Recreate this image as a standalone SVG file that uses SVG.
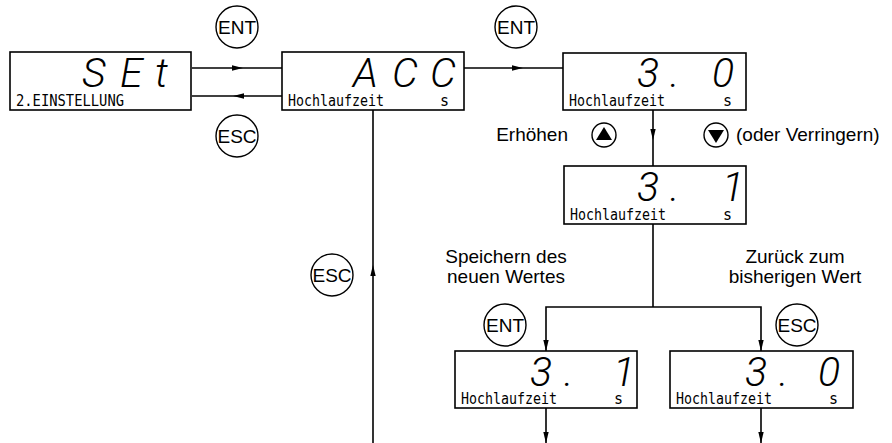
<svg xmlns="http://www.w3.org/2000/svg" width="892" height="443" viewBox="0 0 892 443">
<style>
.box{fill:#fff;stroke:#000;stroke-width:1.6}
.big{font-family:Roboto,"Liberation Sans",sans-serif;font-style:italic;font-weight:300;font-size:41px;fill:#000}
.small{font-family:"DejaVu Sans Mono","Liberation Mono",monospace;font-size:15px;fill:#000}
.lbl{font-family:"Liberation Sans",Arial,sans-serif;font-size:19px;fill:#000}
.key{fill:#fff;stroke:#000;stroke-width:1.4}
.keyt{font-family:"Liberation Sans",Arial,sans-serif;font-size:19px;fill:#000;text-anchor:middle}
.ln{fill:none;stroke:#000;stroke-width:1.6}
</style>
<defs>
<marker id="ah" viewBox="0 0 11 7" refX="11" refY="3.5" markerWidth="11" markerHeight="7" markerUnits="userSpaceOnUse" orient="auto">
<path d="M0,0.8 L11,3.5 L0,6.2 z" fill="#000"/>
</marker>
</defs>

<g id="connectors">
<path class="ln" d="M192,68 H243" marker-end="url(#ah)"/>
<path class="ln" d="M243,68 H282"/>
<path class="ln" d="M282,96 H233" marker-end="url(#ah)"/>
<path class="ln" d="M233,96 H192"/>
<path class="ln" d="M464,68 H523" marker-end="url(#ah)"/>
<path class="ln" d="M523,68 H563"/>
<path class="ln" d="M653,110 V140" marker-end="url(#ah)"/>
<path class="ln" d="M653,140 V166"/>
<path class="ln" d="M653,224 V307"/>
<path class="ln" d="M653,307 H546 V351" marker-end="url(#ah)"/>
<path class="ln" d="M653,307 H761 V351" marker-end="url(#ah)"/>
<path class="ln" d="M546,408 V443" marker-end="url(#ah)"/>
<path class="ln" d="M761,408 V443" marker-end="url(#ah)"/>
<path class="ln" d="M373,443 V265" marker-end="url(#ah)"/>
<path class="ln" d="M373,265 V110"/>
</g>

<g id="node-set">
<rect class="box" x="10" y="52" width="181" height="58"/>
<text class="big" x="82 120 155" y="87">SEt</text>
<text class="small" x="16" y="106" textLength="108" lengthAdjust="spacingAndGlyphs">2.EINSTELLUNG</text>
</g>

<g id="node-acc">
<rect class="box" x="282" y="52" width="182" height="58"/>
<text class="big" x="353 392 430" y="87">ACC</text>
<text class="small" x="288" y="106" textLength="96" lengthAdjust="spacingAndGlyphs">Hochlaufzeit</text>
<text class="small" x="440" y="106">s</text>
</g>

<g id="node-30">
<rect class="box" x="563" y="53" width="183" height="57"/>
<text class="big" x="637 670 712" y="87">3.0</text>
<text class="small" x="569" y="106" textLength="96" lengthAdjust="spacingAndGlyphs">Hochlaufzeit</text>
<text class="small" x="723" y="106">s</text>
</g>

<g id="node-31">
<rect class="box" x="564" y="166" width="182" height="58"/>
<text class="big" x="637 670 722" y="201">3.1</text>
<text class="small" x="570" y="220" textLength="96" lengthAdjust="spacingAndGlyphs">Hochlaufzeit</text>
<text class="small" x="723" y="220">s</text>
</g>

<g id="node-31-saved">
<rect class="box" x="455" y="351" width="182" height="57"/>
<text class="big" x="530 564 613" y="386">3.1</text>
<text class="small" x="461" y="404" textLength="96" lengthAdjust="spacingAndGlyphs">Hochlaufzeit</text>
<text class="small" x="614" y="404">s</text>
</g>

<g id="node-30-restored">
<rect class="box" x="670" y="351" width="183" height="57"/>
<text class="big" x="745 779 818" y="386">3.0</text>
<text class="small" x="676" y="404" textLength="96" lengthAdjust="spacingAndGlyphs">Hochlaufzeit</text>
<text class="small" x="829" y="404">s</text>
</g>

<g id="key-ent-1"><circle class="key" cx="237" cy="27" r="21"/><text class="keyt" x="237" y="34">ENT</text></g>
<g id="key-esc-1"><circle class="key" cx="237" cy="136" r="21"/><text class="keyt" x="237" y="143">ESC</text></g>
<g id="key-ent-2"><circle class="key" cx="516" cy="27" r="21"/><text class="keyt" x="516" y="34">ENT</text></g>
<g id="key-esc-2"><circle class="key" cx="332" cy="275" r="21"/><text class="keyt" x="332" y="282">ESC</text></g>
<g id="key-ent-3"><circle class="key" cx="505" cy="325" r="21"/><text class="keyt" x="505" y="332">ENT</text></g>
<g id="key-esc-3"><circle class="key" cx="797" cy="325" r="21"/><text class="keyt" x="797" y="332">ESC</text></g>
<g id="key-up"><circle class="key" cx="604" cy="135" r="12" stroke-width="1.8"/><path d="M604,127 L612,140 L596,140 z" fill="#000"/></g>
<g id="key-down"><circle class="key" cx="716" cy="135" r="12" stroke-width="1.8"/><path d="M708,130 L724,130 L716,143 z" fill="#000"/></g>

<g id="labels">
<text class="lbl" x="568" y="141" text-anchor="end">Erhöhen</text>
<text class="lbl" x="736" y="141">(oder Verringern)</text>
<text class="lbl" x="506" y="263" text-anchor="middle">Speichern des</text>
<text class="lbl" x="506" y="283" text-anchor="middle">neuen Wertes</text>
<text class="lbl" x="795" y="263" text-anchor="middle">Zurück zum</text>
<text class="lbl" x="795" y="283" text-anchor="middle">bisherigen Wert</text>
</g>
</svg>
